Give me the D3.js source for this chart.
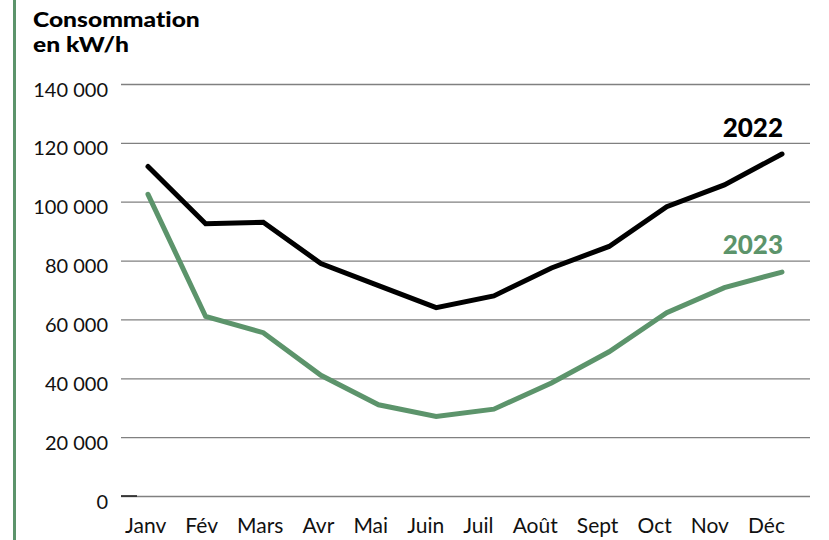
<!DOCTYPE html>
<html><head><meta charset="utf-8">
<script src="https://cdn.jsdelivr.net/npm/d3@7"></script>
<style>html,body{margin:0;padding:0;background:#fff;}svg{display:block;}text{font-variant-ligatures:none;font-feature-settings:"liga" 0;}</style>
</head><body>
<svg id="c" width="829" height="540"></svg>
<script>
const months = ["Janv","Fév","Mars","Avr","Mai","Juin","Juil","Août","Sept","Oct","Nov","Déc"];
const values2022 = [112000,92500,93000,79000,71500,64000,68000,77500,84800,98300,105700,116200];
const values2023 = [102500,61000,55500,41000,31000,27000,29500,38400,49000,62300,70800,76100];
const yTicks = [0,20000,40000,60000,80000,100000,120000,140000];
const seriesNames = ["2022","2023"];
const titleLines = ["Consommation","en kW/h"];

const GREEN = "#5c946b";
const svg = d3.select("#c");
const FONT = "Lato, 'Source Sans Pro', sans-serif";

const x = d3.scalePoint().domain(months).range([148,782]);
const y = d3.scaleLinear().domain([0,140000]).range([496,84]);

// left border
svg.append("rect").attr("x",13).attr("y",0).attr("width",3).attr("height",540).attr("fill",GREEN);

// title (Lato Black, widened to match the reference's width)
svg.append("text").attr("transform","translate(33,0) scale(1.2,1)")
  .attr("font-family",FONT).attr("font-weight",900).attr("font-size",20.5).attr("fill","#000")
  .selectAll("tspan").data(titleLines).join("tspan")
  .attr("x",0).attr("y",(d,i)=>27+i*25).text(d=>d);

// y axis (grid)
const yAxis = d3.axisLeft(y).tickValues(yTicks).tickSize(-(810-121))
  .tickFormat(d=>d3.format(",")(d).replace(/,/g," "));
const gy = svg.append("g").attr("transform","translate(121,0)").call(yAxis);
gy.select(".domain").remove();
gy.selectAll(".tick line").attr("stroke","#808080").attr("stroke-width",1.3);
gy.selectAll(".tick text").attr("x",-13).attr("dy",null).attr("y",12)
  .attr("font-family",FONT).attr("font-size",20).attr("fill","#111").attr("text-anchor","end");
// darker tick at baseline start
svg.append("line").attr("x1",121).attr("x2",137).attr("y1",y(0)).attr("y2",y(0))
  .attr("stroke","#222").attr("stroke-width",1.6);

// x labels: flowed text
const gx = svg.append("g");
const labels = gx.selectAll("text").data(months).join("text")
  .attr("font-family",FONT).attr("font-size",21).attr("fill","#111").attr("y",533).text(d=>d);
const widths = [];
labels.each(function(){widths.push(this.getComputedTextLength());});
const startX = 125, endX = 785;
const gap = (endX-startX-d3.sum(widths))/(months.length-1);
let cx = startX;
labels.each(function(d,i){ d3.select(this).attr("x",cx); cx += widths[i]+gap; });

// lines
const line = d3.line().x((d,i)=>x(months[i])).y(d=>y(d));
svg.append("path").datum(values2022).attr("d",line).attr("fill","none")
  .attr("stroke","#000").attr("stroke-width",5).attr("stroke-linejoin","miter").attr("stroke-linecap","round");
svg.append("path").datum(values2023).attr("d",line).attr("fill","none")
  .attr("stroke",GREEN).attr("stroke-width",5).attr("stroke-linejoin","miter").attr("stroke-linecap","round");

// series labels
svg.append("text").attr("x",783).attr("y",137).attr("text-anchor","end")
  .attr("font-family",FONT).attr("font-weight",900).attr("font-size",26).attr("fill","#000").text(seriesNames[0]);
svg.append("text").attr("x",783).attr("y",254).attr("text-anchor","end")
  .attr("font-family",FONT).attr("font-weight",900).attr("font-size",26).attr("fill",GREEN).text(seriesNames[1]);
</script>
</body></html>
